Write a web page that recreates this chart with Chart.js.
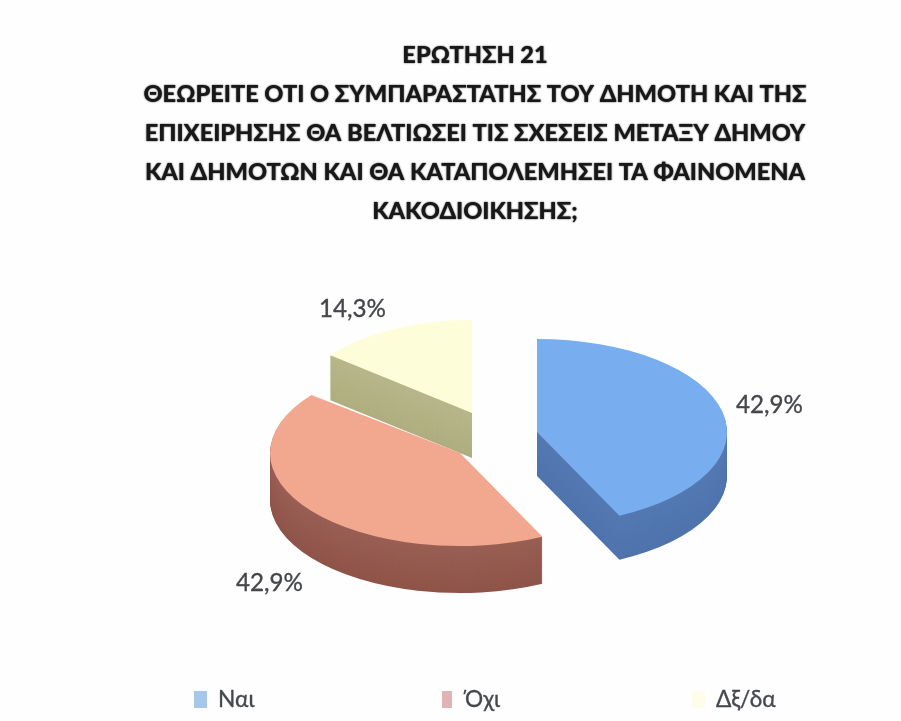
<!DOCTYPE html>
<html><head><meta charset="utf-8">
<style>html,body{margin:0;padding:0;background:#fefefe}canvas{display:block;filter:blur(.55px)}</style>
<script src="https://cdn.jsdelivr.net/npm/chart.js@4"></script></head>
<body><canvas id="c" width="901" height="721"></canvas>
<script>
const titleLines=["ΕΡΩΤΗΣΗ 21","ΘΕΩΡΕΙΤΕ ΟΤΙ Ο ΣΥΜΠΑΡΑΣΤΑΤΗΣ ΤΟΥ ΔΗΜΟΤΗ ΚΑΙ ΤΗΣ","ΕΠΙΧΕΙΡΗΣΗΣ ΘΑ ΒΕΛΤΙΩΣΕΙ ΤΙΣ ΣΧΕΣΕΙΣ ΜΕΤΑΞΥ ΔΗΜΟΥ","ΚΑΙ ΔΗΜΟΤΩΝ ΚΑΙ ΘΑ ΚΑΤΑΠΟΛΕΜΗΣΕΙ ΤΑ ΦΑΙΝΟΜΕΝΑ","ΚΑΚΟΔΙΟΙΚΗΣΗΣ;"];
const categories=["Ναι","Όχι","Δξ/δα"];
const percents=[42.9,42.9,14.3];
const topColors=["#78aef0","#f2a78f","#fdfdd9"];
const wallTop=["#5479b2","#995f54","#b6b78b"];
const wallBottom=["#4f73ac","#8f5449","#aeae80"];
const legendColors=["#a4c7ea","#e2b3b6","#fdfde9"];
const FONT='Lato, "Open Sans", sans-serif';
const RADIUS=190;
const look=[{x:537,y:432,rx:190,ry:93,depth:44},{x:460,y:453,rx:190,ry:93,depth:47},{x:472,y:413,rx:182,ry:93,depth:45}];
const labelPos=[[769.5,405],[269.5,583],[352.5,309]];
const legendX=[194,442,692],legendTextX=[218,465,716];
const pseudo3d={id:'pseudo3d',
 beforeDraw(chart){const c=chart.ctx;c.shadowColor='#181818';c.shadowBlur=1.6;},
 beforeDatasetsDraw(chart){
  const ctx=chart.ctx, arcs=chart.getDatasetMeta(0).data;
  ctx.shadowBlur=0;ctx.shadowColor='transparent';
  [2,1,0].forEach(i=>{
   const a=arcs[i], l=look[i], Ctor=a.constructor;
   const put=(shift)=>{ctx.translate(l.x,l.y+shift);ctx.scale(l.rx/a.outerRadius,l.ry/a.outerRadius);ctx.translate(-a.x,-a.y);};
   const p={x:a.x,y:a.y,startAngle:a.startAngle,endAngle:a.endAngle,innerRadius:a.innerRadius,outerRadius:a.outerRadius,circumference:a.circumference,fullCircles:0};
   for(let s=l.depth;s>=1;s--){
    const t=s/l.depth, col=mix(wallTop[i],wallBottom[i],t);
    const w=new Ctor(Object.assign({},p,{options:Object.assign({},a.options,{backgroundColor:col,borderWidth:0})}));
    ctx.save();put(s);w.draw(ctx);ctx.restore();
   }
   ctx.save();put(0);a.draw(ctx);ctx.restore();
  });
  return false;
 },
 afterDraw(chart){
  const ctx=chart.ctx;
  ctx.save();
  ctx.fillStyle='#45474a';ctx.strokeStyle='#45474a';ctx.lineWidth=.35;ctx.font='24.2px '+FONT;ctx.textAlign='center';ctx.textBaseline='middle';
  percents.forEach((v,i)=>{const s=v.toFixed(1).replace('.',',')+'%';ctx.fillText(s,labelPos[i][0],labelPos[i][1]);ctx.strokeText(s,labelPos[i][0],labelPos[i][1]);});
  ctx.textAlign='left';ctx.font='22.7px '+FONT;
  categories.forEach((c,i)=>{
   ctx.fillStyle=legendColors[i];ctx.fillRect(legendX[i],691,i==1?10:13,17);
   ctx.fillStyle='#45494e';ctx.strokeStyle='#45494e';ctx.fillText(c,legendTextX[i],700);ctx.strokeText(c,legendTextX[i],700);
  });
  ctx.restore();
 }};
function mix(a,b,t){const f=(h,k)=>parseInt(h.substr(k,2),16);let o='rgb(';[1,3,5].forEach((k,j)=>{o+=Math.round(f(a,k)*(1-t)+f(b,k)*t)+(j<2?',':')')});return o;}
new Chart(document.getElementById('c'),{type:'pie',plugins:[pseudo3d],
 data:{labels:categories,datasets:[{data:percents,backgroundColor:topColors,borderWidth:0,radius:RADIUS}]},
 options:{responsive:false,animation:false,
  layout:{padding:{left:49,top:36}},
  plugins:{legend:{display:false},tooltip:{enabled:false},
   title:{display:true,text:titleLines,color:'#181818',font:{family:FONT,size:23.6,weight:'900',lineHeight:1.65},padding:0}}}});
</script></body></html>
